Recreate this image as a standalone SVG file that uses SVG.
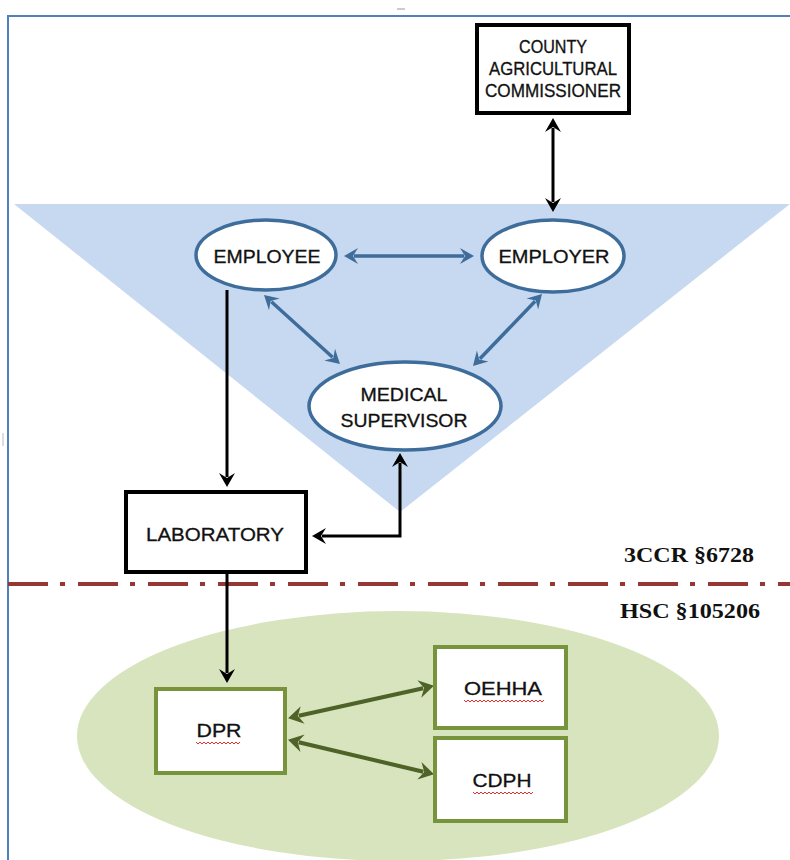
<svg xmlns="http://www.w3.org/2000/svg" width="790" height="860" viewBox="0 0 790 860">
<style>
.lbl{font-family:"Liberation Sans",Arial,sans-serif;font-size:18px;fill:#111;text-anchor:middle;stroke:#111;stroke-width:0.3}
.law{font-family:"Liberation Serif","Times New Roman",serif;font-size:21px;font-weight:bold;fill:#111}
.blk{fill:#fff;stroke:#000;stroke-width:4}
.ell{fill:#fff;stroke:#3F6D9B;stroke-width:3.5}
.grn{fill:#fff;stroke:#77933C;stroke-width:4}
.ab{fill:none;stroke:#000;stroke-width:3}
.au{fill:none;stroke:#3F6D9B;stroke-width:3.5}
.ag{fill:none;stroke:#4F6228;stroke-width:4}
.sq{fill:none;stroke:#E03030;stroke-width:1}
</style>
<defs>
<marker id="mb" markerUnits="userSpaceOnUse" viewBox="-2 -10 20 20" markerWidth="20" markerHeight="20" refX="4" refY="0" orient="auto-start-reverse"><path d="M0,-8 L14,0 L0,8 L5,0 z" fill="#000"/></marker>
<marker id="mu" markerUnits="userSpaceOnUse" viewBox="-2 -10 20 20" markerWidth="20" markerHeight="20" refX="4" refY="0" orient="auto-start-reverse"><path d="M0,-8 L14,0 L0,8 L5,0 z" fill="#3F6D9B"/></marker>
<marker id="mg" markerUnits="userSpaceOnUse" viewBox="-2 -10 20 20" markerWidth="20" markerHeight="20" refX="4" refY="0" orient="auto-start-reverse"><path d="M0,-9 L15,0 L0,9 L5,0 z" fill="#4F6228"/></marker>
</defs>
<rect width="790" height="860" fill="#fff"/>
<g id="frame">
<path d="M8,860 L8,16 L790,16" fill="none" stroke="#4F81BD" stroke-width="2"/>
<line x1="397" y1="9" x2="405" y2="9" stroke="#999" stroke-width="1"/>
<line x1="3" y1="433" x2="3" y2="446" stroke="#bbb" stroke-width="1"/>
</g>
<g id="triangle"><polygon points="14,204 790,204 400,512" fill="#C6D9F1"/></g>
<g id="green-area"><ellipse cx="398" cy="736" rx="321" ry="125" fill="#D7E4BD"/></g>
<g id="divider">
<line x1="8" y1="584" x2="790" y2="584" stroke="#953735" stroke-width="4" stroke-dasharray="40 12 5 13"/>
<text class="law" x="754" y="562" text-anchor="end" textLength="130" lengthAdjust="spacingAndGlyphs">3CCR §6728</text>
<text class="law" x="760" y="618" text-anchor="end" textLength="140" lengthAdjust="spacingAndGlyphs">HSC §105206</text>
</g>
<g id="connectors">
<line class="ab" x1="553" y1="128" x2="553" y2="202" marker-start="url(#mb)" marker-end="url(#mb)"/>
<line class="au" x1="354" y1="256" x2="464" y2="256" marker-start="url(#mu)" marker-end="url(#mu)"/>
<line class="au" x1="271.4" y1="301.7" x2="332.6" y2="357.3" marker-start="url(#mu)" marker-end="url(#mu)"/>
<line class="au" x1="535.1" y1="301.2" x2="479.9" y2="358.8" marker-start="url(#mu)" marker-end="url(#mu)"/>
<line class="ab" x1="227" y1="290" x2="227" y2="477" marker-end="url(#mb)"/>
<path class="ab" d="M400,463 L400,536 L322,536" marker-start="url(#mb)" marker-end="url(#mb)"/>
<line class="ab" x1="227" y1="573" x2="227" y2="673" marker-end="url(#mb)"/>
<line class="ag" x1="298.8" y1="715.8" x2="423.2" y2="688.2" marker-start="url(#mg)" marker-end="url(#mg)"/>
<line class="ag" x1="298.7" y1="742.3" x2="423.3" y2="771.7" marker-start="url(#mg)" marker-end="url(#mg)"/>
</g>
<g id="county">
<rect class="blk" x="477" y="25" width="152" height="88"/>
<text class="lbl" x="553" y="53" textLength="68" lengthAdjust="spacingAndGlyphs">COUNTY</text>
<text class="lbl" x="553" y="75" textLength="128" lengthAdjust="spacingAndGlyphs">AGRICULTURAL</text>
<text class="lbl" x="553" y="97" textLength="136" lengthAdjust="spacingAndGlyphs">COMMISSIONER</text>
</g>
<g id="employee">
<ellipse class="ell" cx="266" cy="255" rx="70" ry="35"/>
<text class="lbl" x="267" y="263" textLength="107" lengthAdjust="spacingAndGlyphs">EMPLOYEE</text>
</g>
<g id="employer">
<ellipse class="ell" cx="553" cy="256" rx="71" ry="36"/>
<text class="lbl" x="554" y="263" textLength="111" lengthAdjust="spacingAndGlyphs">EMPLOYER</text>
</g>
<g id="medical-supervisor">
<ellipse class="ell" cx="405" cy="406" rx="96" ry="44"/>
<text class="lbl" x="404" y="401" textLength="87" lengthAdjust="spacingAndGlyphs">MEDICAL</text>
<text class="lbl" x="404" y="427" textLength="127" lengthAdjust="spacingAndGlyphs">SUPERVISOR</text>
</g>
<g id="laboratory">
<rect class="blk" x="126" y="492" width="180" height="80"/>
<text class="lbl" x="215" y="541" textLength="138" lengthAdjust="spacingAndGlyphs">LABORATORY</text>
</g>
<g id="dpr">
<rect class="grn" x="156" y="689" width="129" height="84"/>
<text class="lbl" x="219" y="737" textLength="45" lengthAdjust="spacingAndGlyphs">DPR</text>
<path class="sq" d="M196,742 l2,2 l2,-2 l2,2 l2,-2 l2,2 l2,-2 l2,2 l2,-2 l2,2 l2,-2 l2,2 l2,-2 l2,2 l2,-2 l2,2 l2,-2 l2,2 l2,-2 l2,2 l2,-2 l2,2 l2,-2"/>
</g>
<g id="oehha">
<rect class="grn" x="435" y="647" width="131" height="81"/>
<text class="lbl" x="503" y="695" textLength="78" lengthAdjust="spacingAndGlyphs">OEHHA</text>
<path class="sq" d="M464,700 l2,2 l2,-2 l2,2 l2,-2 l2,2 l2,-2 l2,2 l2,-2 l2,2 l2,-2 l2,2 l2,-2 l2,2 l2,-2 l2,2 l2,-2 l2,2 l2,-2 l2,2 l2,-2 l2,2 l2,-2 l2,2 l2,-2 l2,2 l2,-2 l2,2 l2,-2 l2,2 l2,-2 l2,2 l2,-2 l2,2 l2,-2 l2,2 l2,-2 l2,2 l2,-2 l2,2 l2,-2"/>
</g>
<g id="cdph">
<rect class="grn" x="435" y="738" width="131" height="83"/>
<text class="lbl" x="502" y="787" textLength="59" lengthAdjust="spacingAndGlyphs">CDPH</text>
<path class="sq" d="M473,792 l2,2 l2,-2 l2,2 l2,-2 l2,2 l2,-2 l2,2 l2,-2 l2,2 l2,-2 l2,2 l2,-2 l2,2 l2,-2 l2,2 l2,-2 l2,2 l2,-2 l2,2 l2,-2 l2,2 l2,-2 l2,2 l2,-2 l2,2 l2,-2 l2,2 l2,-2 l2,2 l2,-2"/>
</g>
</svg>
